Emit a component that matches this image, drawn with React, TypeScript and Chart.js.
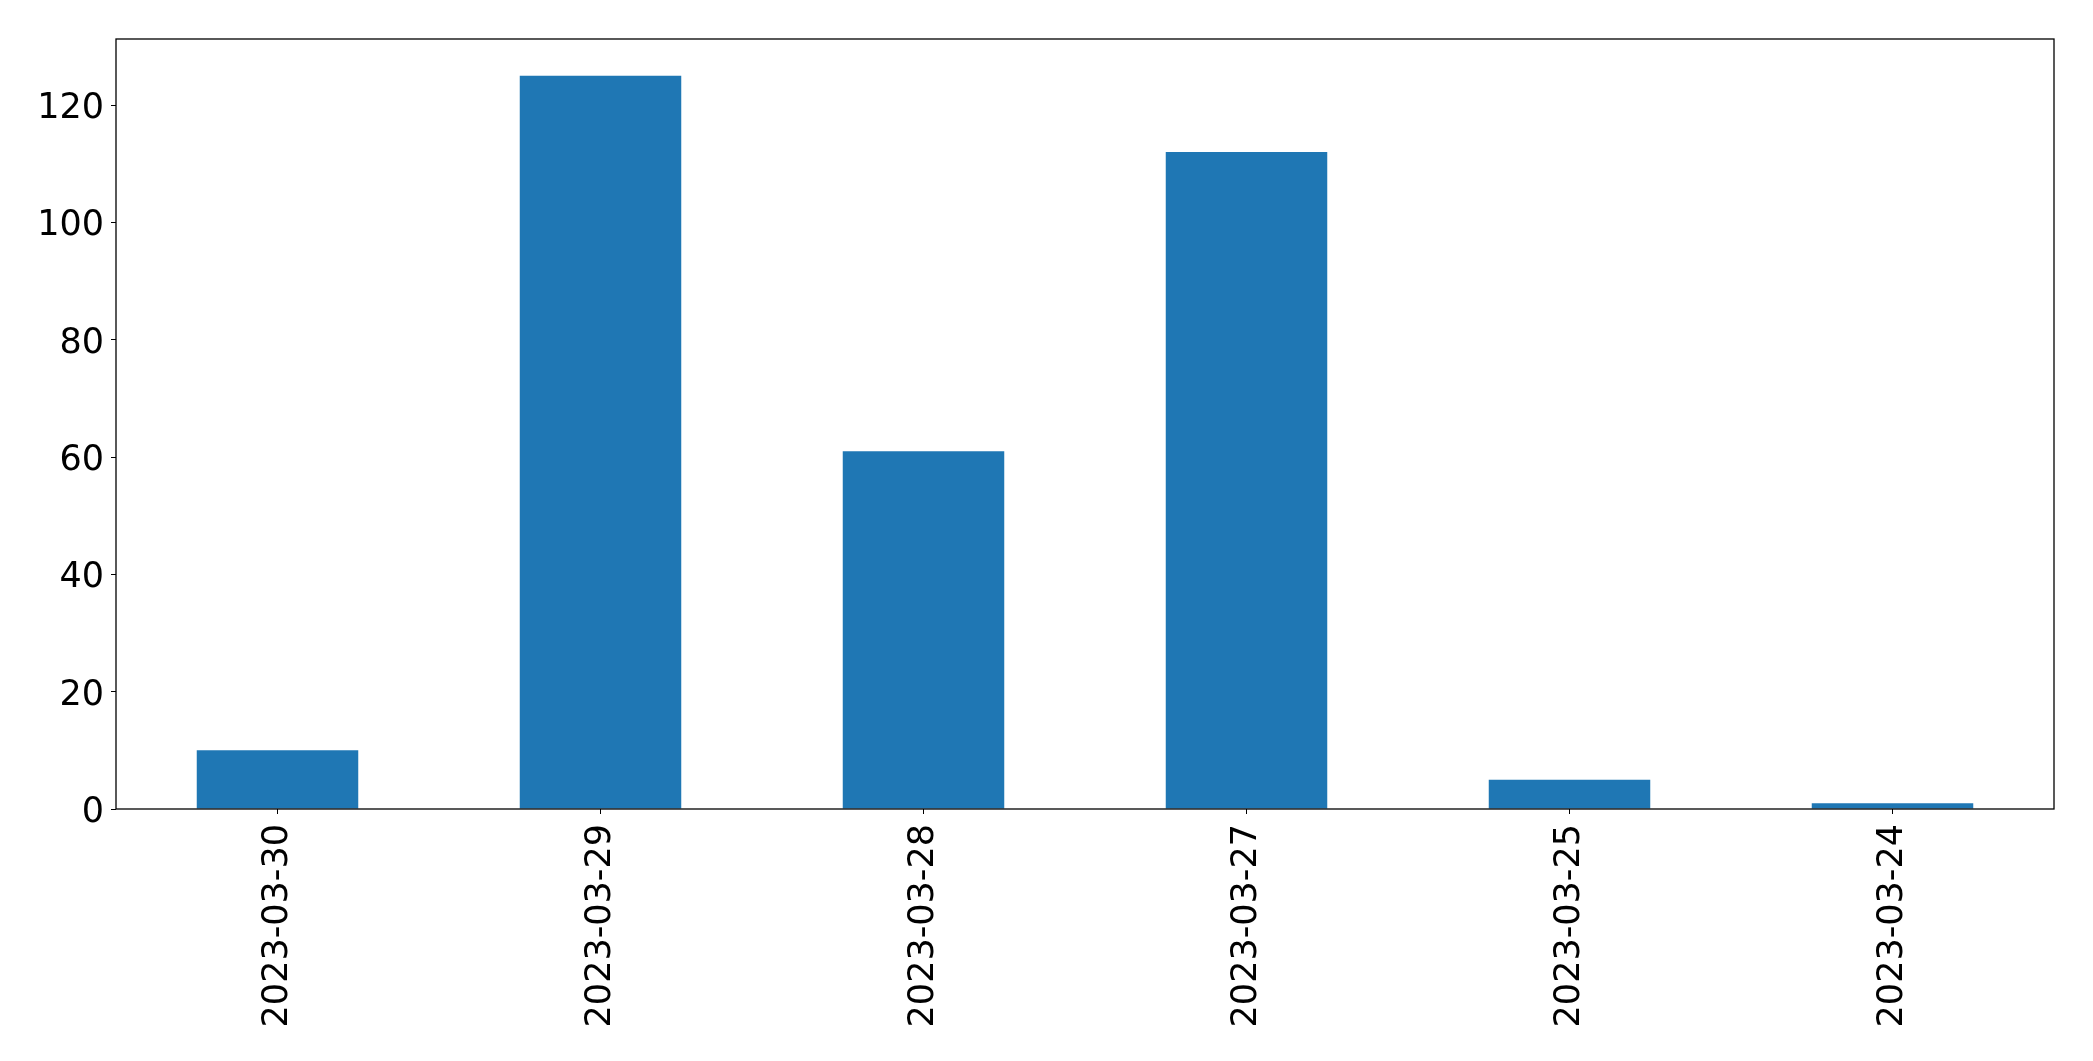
import React, { useEffect, useRef } from "react";
import { Chart, registerables } from "chart.js";

Chart.register(...registerables);

const categories: string[] = ["2023-03-30", "2023-03-29", "2023-03-28", "2023-03-27", "2023-03-25", "2023-03-24"];
const counts: number[] = [10, 125, 61, 112, 5, 1];
const yMax = 131.25;
const yStep = 20;

const frame = {
  id: "frame",
  afterDraw(chart: any) {
    const { ctx, chartArea } = chart;
    ctx.save();
    ctx.strokeStyle = "#000";
    ctx.lineWidth = 1.3;
    ctx.strokeRect(chartArea.left, chartArea.top, chartArea.right - chartArea.left, chartArea.bottom - chartArea.top);
    ctx.restore();
  },
};

export default function App() {
  const ref = useRef<HTMLCanvasElement | null>(null);
  useEffect(() => {
    document.body.style.margin = "0";
    const font = { family: "'DejaVu Sans', sans-serif", size: 35 };
    const chart = new Chart(ref.current as HTMLCanvasElement, {
      type: "bar",
      data: {
        labels: categories,
        datasets: [
          {
            data: counts,
            backgroundColor: "#1f77b4",
            categoryPercentage: 1,
            barPercentage: 0.5,
          },
        ],
      },
      options: {
        animation: false,
        responsive: false,
        layout: { padding: { top: 39, right: 39, left: 0, bottom: 0 } },
        plugins: { legend: { display: false }, tooltip: { enabled: false } },
        scales: {
          x: {
            grid: { display: true, offset: false, drawOnChartArea: false, tickLength: 5, color: "#000", tickColor: "#000" },
            border: { display: false },
            ticks: { color: "#000", font, maxRotation: 90, minRotation: 90, padding: 10, autoSkip: false },
            afterFit(scale: any) {
              scale.height = 252;
            },
          },
          y: {
            min: 0,
            max: yMax,
            grid: { display: true, drawOnChartArea: false, tickLength: 5, color: "#000", tickColor: "#000" },
            border: { display: false },
            ticks: { color: "#000", font, stepSize: yStep, includeBounds: false, padding: 7, labelOffset: 4 },
            afterFit(scale: any) {
              scale.width = 116;
            },
          },
        },
      },
      plugins: [frame],
    });
    return () => chart.destroy();
  }, []);
  return (
    <div style={{ position: "absolute", left: 0, top: 0, width: 2093, height: 1061, background: "#fff" }}>
      <canvas ref={ref} width={2093} height={1061} style={{ width: 2093, height: 1061 }} />
    </div>
  );
}
